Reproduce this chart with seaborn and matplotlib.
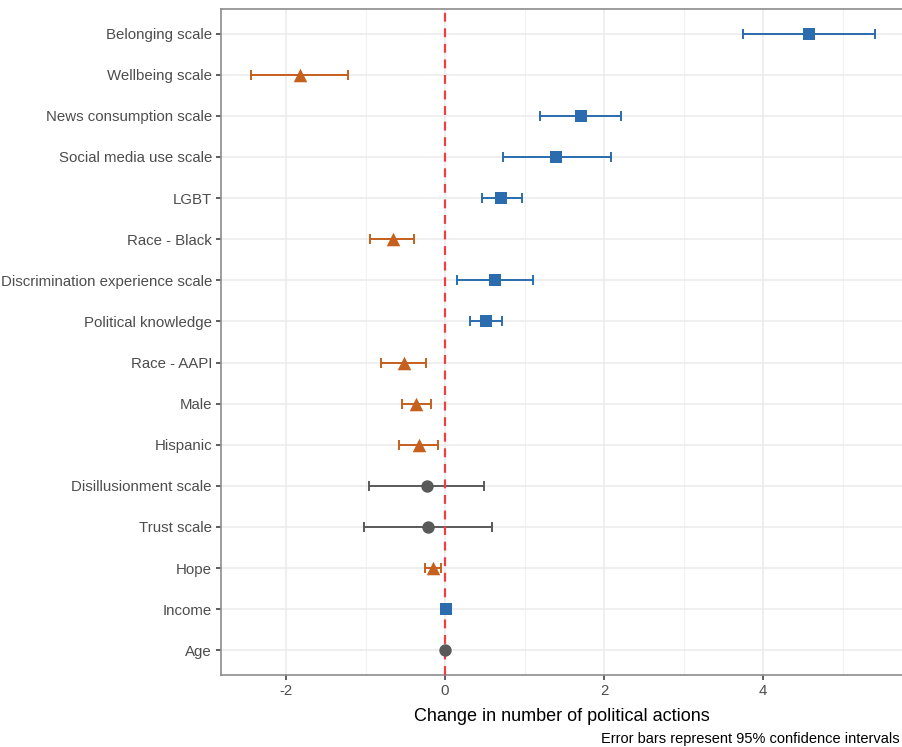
import matplotlib
matplotlib.use("Agg")
import matplotlib.pyplot as plt
import seaborn as sns
import pandas as pd
import numpy as np

# Model terms, top to bottom
terms = [
    "Belonging scale", "Wellbeing scale", "News consumption scale",
    "Social media use scale", "LGBT", "Race - Black",
    "Discrimination experience scale", "Political knowledge", "Race - AAPI",
    "Male", "Hispanic", "Disillusionment scale", "Trust scale", "Hope",
    "Income", "Age",
]
estimate = [4.58, -1.82, 1.71, 1.40, 0.71, -0.66, 0.63, 0.52, -0.52,
            -0.37, -0.33, -0.23, -0.21, -0.155, 0.01, 0.0]
ci_low = [3.75, -2.44, 1.20, 0.73, 0.465, -0.94, 0.15, 0.31, -0.80,
          -0.54, -0.58, -0.96, -1.02, -0.25, 0.0, -0.005]
ci_high = [5.41, -1.22, 2.21, 2.09, 0.965, -0.386, 1.11, 0.72, -0.24,
           -0.18, -0.09, 0.49, 0.59, -0.055, 0.02, 0.005]
effect = ["Positive", "Negative", "Positive", "Positive", "Positive",
          "Negative", "Positive", "Positive", "Negative", "Negative",
          "Negative", "Not significant", "Not significant", "Negative",
          "Positive", "Not significant"]

df = pd.DataFrame({
    "term": terms, "estimate": estimate,
    "low": ci_low, "high": ci_high, "effect": effect,
})
df["pos"] = np.arange(len(df))

palette = {"Positive": "#2a6cae", "Negative": "#c5601e", "Not significant": "#595959"}
markers = {"Positive": "s", "Negative": "^", "Not significant": "o"}
sizes = {"Positive": 80, "Negative": 95, "Not significant": 80}

sns.set_theme(style="white")
plt.rcParams["font.family"] = ["Liberation Sans", "DejaVu Sans"]

fig = plt.figure(figsize=(9.03, 7.47), dpi=100)
ax = fig.add_axes([221 / 903, 1 - 675 / 747, 1 - 221 / 903, (675 - 9) / 747])

# grid lines (major and minor)
for xv in [-2, 0, 2, 4]:
    ax.axvline(xv, color="#ebebeb", lw=1.1, zorder=0)
for xv in [-1, 1, 3, 5]:
    ax.axvline(xv, color="#f2f2f2", lw=0.8, zorder=0)
for yv in df["pos"]:
    ax.axhline(yv, color="#ebebeb", lw=1.1, zorder=0)

# confidence intervals
for grp, sub in df.groupby("effect"):
    ax.errorbar(sub["estimate"], sub["pos"],
                xerr=[sub["estimate"] - sub["low"], sub["high"] - sub["estimate"]],
                fmt="none", ecolor=palette[grp], elinewidth=1.4,
                capsize=3.5, capthick=1.4, zorder=2)

ax.axvline(0, color="#ee4040", lw=1.6, ls=(0, (4, 3)), zorder=3)

for grp, sub in df.groupby("effect"):
    sns.scatterplot(data=sub, x="estimate", y="pos", color=palette[grp],
                    marker=markers[grp], s=sizes[grp], linewidth=0,
                    ax=ax, zorder=4, legend=False)

ax.set_xlim(-2.818, 5.76)
ax.set_ylim(len(df) - 0.4, -0.6)
ax.set_yticks(df["pos"])
ax.set_yticklabels(df["term"])
ax.set_xticks([-2, 0, 2, 4])
ax.set_xticklabels(["-2", "0", "2", "4"])
ax.tick_params(axis="both", colors="#333333", labelcolor="#4d4d4d",
               labelsize=10.8, length=3.5, width=1.1, direction="out",
               left=True, bottom=True, pad=3)
ax.set_xlabel("Change in number of political actions", fontsize=13,
              color="black", labelpad=7)
ax.set_ylabel("")

for side in ["left", "top", "bottom"]:
    ax.spines[side].set_color("#8c8c8c")
    ax.spines[side].set_linewidth(1.2)
ax.spines["right"].set_visible(False)

fig.text(900 / 903, 1 - 746 / 747, "Error bars represent 95% confidence intervals",
         ha="right", va="bottom", fontsize=10.5, color="black")

fig.savefig("out.png", dpi=100)
